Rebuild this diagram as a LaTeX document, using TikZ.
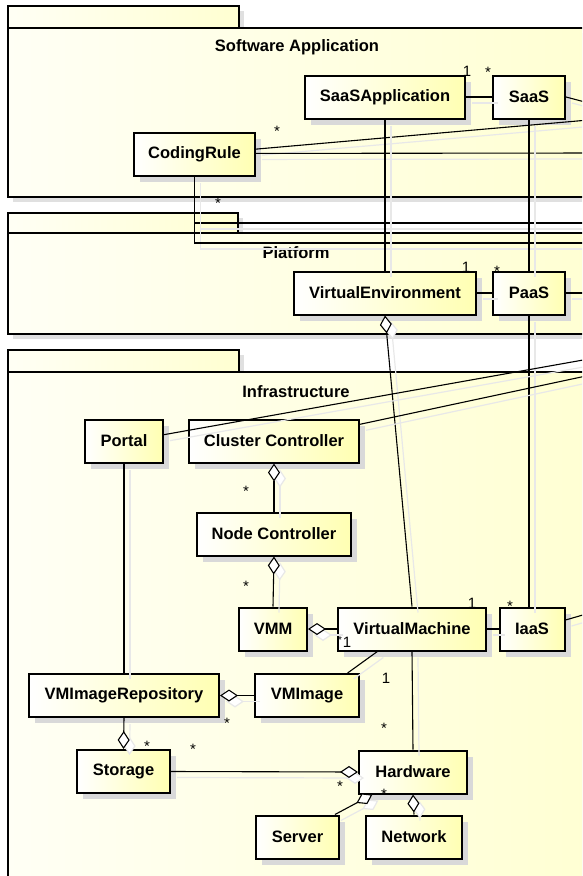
\documentclass[tikz,border=0pt]{standalone}
\usepackage{fontspec}
\setmainfont{Liberation Sans}
\usetikzlibrary{shadows}
\usetikzlibrary{arrows.meta}
\usetikzlibrary{positioning}

\begin{document}
\begin{tikzpicture}[x=1pt,y=-1pt]
\useasboundingbox (0,0) rectangle (582,876);
\clip (0,0) rectangle (582,876);

\def\bh{43}
\tikzstyle{pkg} = [draw, line width=2pt, left color=yellow!4, right color=yellow!18,
	drop shadow={shadow xshift=5pt, shadow yshift=-5pt, fill=black!12, opacity=1}];
\tikzstyle{klass} = [draw, line width=2pt, left color=white, right color=yellow!30,
	minimum height=\bh pt, inner sep=0pt, font=\fontsize{16.5}{18}\selectfont\bfseries,
	drop shadow={shadow xshift=6pt, shadow yshift=-6pt, fill=black!15, opacity=1}];
\tikzstyle{title} = [font=\fontsize{16.5}{18}\selectfont\bfseries];
\tikzstyle{mult} = [font=\fontsize{15}{15}\selectfont, inner sep=0pt];
\tikzstyle{link} = [line width=1.1pt,
	preaction={draw=black!9, line width=1.2pt, transform canvas={shift={(6pt,-6pt)}}}];
\tikzstyle{agg} = [{Diamond[fill=white,length=18pt,width=12pt]}-];

% packages
\path[pkg] (8,6) rectangle (239,28);
\path[pkg] (8,28) rectangle (620,197);
\path[pkg] (8,213) rectangle (238,233);
\path[pkg] (8,233) rectangle (620,334);
\path[pkg] (8,350) rectangle (239,372);
\path[pkg] (8,372) rectangle (620,900);

\node[title] (tsa) at (297,47) {Software Application};
\node[title] (tpf) at (296,253) {Platform};
\node[title] (tin) at (296,392) {Infrastructure};

% classes
\node[klass, minimum width=160] (saasapp) at (385,97) {SaaSApplication};
\node[klass, minimum width=72] (saas) at (529,97) {SaaS};
\node[klass, minimum width=121] (coding) at (194.5,154.5) {CodingRule};
\node[klass, minimum width=182] (virtenv) at (385,293) {VirtualEnvironment};
\node[klass, minimum width=72] (paas) at (529,293) {PaaS};
\node[klass, minimum width=78] (portal) at (124,441) {Portal};
\node[klass, minimum width=170] (cluster) at (274,441) {Cluster Controller};
\node[klass, minimum width=154] (nodectl) at (274,534) {Node Controller};
\node[klass, minimum width=68] (vmm) at (273,629) {VMM};
\node[klass, minimum width=148] (vm) at (412,629) {VirtualMachine};
\node[klass, minimum width=65] (iaas) at (532,629) {IaaS};
\node[klass, minimum width=190] (vmirepo) at (124,695.5) {VMImageRepository};
\node[klass, minimum width=104] (vmimage) at (307,695.5) {VMImage};
\node[klass, minimum width=93] (storage) at (123.5,771.5) {Storage};
\node[klass, minimum width=108] (hardware) at (413,772) {Hardware};
\node[klass, minimum width=83] (server) at (297.5,837) {Server};
\node[klass, minimum width=96] (network) at (414,837) {Network};

% free ends at the right edge
\coordinate (e1) at (600,106);
\coordinate (e2) at (600,119);
\coordinate (e3) at (600,153);
\coordinate (e4) at (600,223);
\coordinate (e5) at (600,243);
\coordinate (e6) at (600,293);
\coordinate (e7) at (600,357);
\coordinate (e8) at (600,373);
\coordinate (e9) at (600,610);

% connectors
\draw[link] (saasapp) -- (saas);
\draw[link] (saas.east) -- (e1);
\draw[link] (coding.5) -- (e2);
\draw[link] (coding.1) -- (e3);
\draw[link] (coding.south) |- (e4);
\draw[link] (coding.south) |- (e5);
\draw[link] (saasapp.south) -- (virtenv.north);
\draw[link] (saas.south) -- (paas.north);
\draw[link] (virtenv) -- (paas);
\draw[link] (paas.east) -- (e6);
\draw[link] (paas.south) -- (paas.south |- iaas.north);
\draw[link,agg] (virtenv.south) -- (vm.north);
\draw[link] (portal.9) -- (e7);
\draw[link] (cluster.11) -- (e8);
\draw[link,agg] (cluster.south) -- (nodectl.north);
\draw[link,agg] (nodectl.south) -- (vmm.north);
\draw[link,agg] (vmm.east) -- (vm.west);
\draw[link] (vm) -- (iaas);
\draw[link] (iaas.15) -- (e9);
\draw[link] (vm.213.7) -- (vmimage.29.5);
\draw[link] (vm.south) -- (hardware.north);
\draw[link] (portal.south) -- (vmirepo.north);
\draw[link,agg] (vmirepo.east) -- (vmimage.west);
\draw[link,agg] (storage.north) -- (vmirepo.south);
\draw[link,agg] (hardware.west) -- (storage.east);
\draw[link,agg] (hardware.209.6) -- (server.31.3);
\draw[link,agg] (hardware.south) -- (network.north);

% multiplicities
\node[mult] (m1) at (467,71) {1};
\node[mult] (m2) at (488,72) {*};
\node[mult] (m3) at (277,131) {*};
\node[mult] (m4) at (218,203) {*};
\node[mult] (m5) at (466,267) {1};
\node[mult] (m6) at (497,271) {*};
\node[mult] (m7) at (246,491) {*};
\node[mult] (m8) at (246,586) {*};
\node[mult] (m9) at (472,603) {1};
\node[mult] (m10) at (510,606) {*};
\node[mult, font=\fontsize{10}{10}\selectfont] (m11) at (340,640) {*};
\node[mult] (m12) at (347,642) {1};
\node[mult] (m13) at (386,678) {1};
\node[mult] (m14) at (384,728) {*};
\node[mult] (m15) at (227,723) {*};
\node[mult] (m16) at (147,746) {*};
\node[mult] (m17) at (193,749) {*};
\node[mult] (m18) at (340,786) {*};
\node[mult] (m19) at (384,794) {*};

\end{tikzpicture}
\end{document}
